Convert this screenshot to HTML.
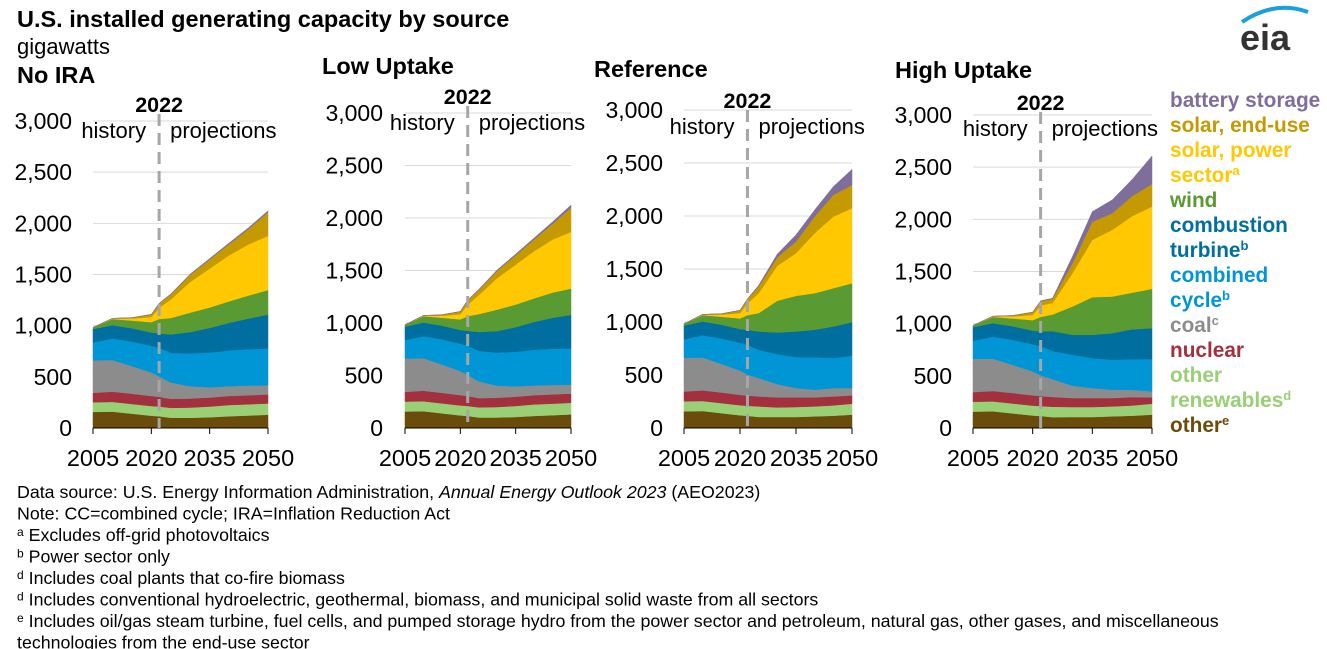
<!DOCTYPE html>
<html><head><meta charset="utf-8"><style>
body{margin:0;background:#fff;width:1327px;height:649px;overflow:hidden;font-family:"Liberation Sans",Arial,sans-serif}
svg{display:block}
</style></head><body>
<svg id="chart" width="1327" height="649" viewBox="0 0 1327 649" xmlns="http://www.w3.org/2000/svg" font-family="Liberation Sans, Arial, sans-serif">
<text x="17" y="27" font-size="23.5" font-weight="bold" fill="#000">U.S. installed generating capacity by source</text>
<text x="17" y="54" font-size="22" fill="#000">gigawatts</text>
<g>
<path d="M1242,22 Q1275,0 1308,12" stroke="#1aa0dc" stroke-width="4" fill="none"/>
<text x="1240" y="50" font-size="36" font-weight="bold" fill="#333">eia</text>
</g>
<g id="panels"></g>
<g id="legend" font-size="20.8" font-weight="bold"></g>
<g id="notes" font-size="17.8" fill="#000"></g>
</svg>
<script>
const years=[2005,2010,2015,2020,2022,2025,2030,2035,2040,2045,2050];
const layerNames=["other","other renewables","nuclear","coal","combined cycle","combustion turbine","wind","solar power sector","solar end-use","battery storage"];
const layerColors=["#6b4c0a","#99d075","#a3303f","#8c8c8c","#0096d6","#006fa0","#5a9a32","#ffc800","#c49a00","#7f6e9b"];
const yTicks=[0,500,1000,1500,2000,2500,3000];
const xTicks=[2005,2020,2035,2050];
const scenarioNames=["No IRA","Low Uptake","Reference","High Uptake"];
const noIRA=[
[157,160,140,120,115,100,100,105,115,122,130],
[95,95,95,95,95,97,100,105,110,110,110],
[92,100,100,98,95,88,88,88,88,88,88],
[318,310,270,230,200,160,120,100,95,95,90],
[174,210,240,260,280,290,320,340,350,355,360],
[131,130,130,131,140,180,210,240,270,300,330],
[16,60,75,100,140,160,190,200,210,225,240],
[0,5,20,50,110,180,300,380,450,500,530],
[0,2,8,25,40,50,70,90,110,150,230],
[0,0,0,2,4,5,6,8,10,12,14]];
const lowUptake=[
[157,160,140,120,115,100,100,105,115,122,130],
[95,95,95,95,95,97,100,105,110,110,110],
[92,100,100,98,95,88,88,88,88,88,88],
[318,310,270,230,200,160,115,98,92,90,85],
[174,210,240,260,280,290,315,330,340,345,345],
[131,130,130,131,140,180,205,235,265,295,320],
[16,60,75,100,140,170,205,215,225,240,250],
[0,5,20,50,110,180,300,380,450,505,540],
[0,2,8,25,40,50,70,90,110,150,230],
[0,0,0,2,4,5,8,10,14,18,25]];
const reference=[
[157,160,140,120,115,104,104,104,110,116,126],
[95,95,95,95,95,100,90,94,94,98,103],
[92,100,100,98,95,94,95,91,85,84,79],
[318,310,270,230,200,173,125,88,72,79,69],
[174,210,240,260,280,267,283,292,305,283,305],
[131,130,130,131,140,173,204,242,261,298,317],
[16,60,75,100,140,173,300,336,345,361,367],
[0,5,20,50,110,188,330,402,566,676,707],
[0,2,8,25,40,63,80,110,157,204,220],
[0,0,0,2,4,10,30,63,62,78,147]];
const highUptake=[
[157,160,140,120,115,104,105,105,112,118,128],
[95,95,95,95,95,100,96,96,95,98,105],
[92,100,100,98,95,94,86,86,80,80,61],
[318,310,270,230,200,170,118,96,80,70,57],
[174,210,240,260,280,270,297,287,287,293,310],
[131,130,130,131,140,190,191,223,255,287,296],
[16,60,75,100,140,160,272,361,351,351,377],
[0,5,20,50,110,110,319,549,639,734,788],
[0,2,8,25,40,40,96,175,159,192,217],
[0,0,0,2,4,6,63,96,128,159,268]];
const scenarioData=[noIRA,lowUptake,reference,highUptake];
const panels=[
 {x0:93,x1:268,y0:428,y3:121,title:[17,83],yr:105,lblR:72},
 {x0:405,x1:571,y0:428,y3:113,title:[322,74],yr:97,lblR:383},
 {x0:684,x1:852,y0:428,y3:110,title:[594,77],yr:101,lblR:663},
 {x0:973,x1:1152,y0:428,y3:115,title:[895,78],yr:103,lblR:952}];
const NS="http://www.w3.org/2000/svg";
function mk(tag,attrs,parent,text){const e=document.createElementNS(NS,tag);for(const k in attrs)e.setAttribute(k,attrs[k]);if(text!==undefined)e.textContent=text;parent.appendChild(e);return e;}
const root=document.getElementById('panels');
panels.forEach((p,pi)=>{
 const g=mk('g',{},root);
 
 
 const xs=v=>p.x0+(v-2005)/45*(p.x1-p.x0);
 const ys=v=>p.y0-v/3000*(p.y0-p.y3);
 const t=mk('text',{x:p.title[0],y:p.title[1],'font-size':23.5,'font-weight':'bold'},g,scenarioNames[pi]);
 
 
 yTicks.forEach(v=>{
  if(v>0){const l=mk('line',{x1:p.x0,x2:p.x1,y1:ys(v),y2:ys(v),stroke:'#d9d9d9','stroke-width':1},g);
  
  }
  const tl=mk('text',{x:p.lblR,y:ys(v)+8,'font-size':23,'text-anchor':'end'},g,v.toLocaleString('en-US'));
  
  
 });
 const data=scenarioData[pi];
 let base=years.map(()=>0);
 data.forEach((vals,li)=>{
  const top=base.map((b,i)=>b+vals[i]);
  const pts=years.map((y,i)=>xs(y)+','+ys(top[i])).concat(years.map((y,i)=>xs(y)+','+ys(base[i])).reverse());
  const poly=mk('polygon',{points:pts.join(' '),fill:layerColors[li],stroke:layerColors[li],'stroke-width':0.5},g);
  
  
  base=top;
 });
 const ax=mk('line',{x1:p.x0,x2:p.x1,y1:p.y0,y2:p.y0,stroke:'#000','stroke-width':1},g);
 
 
 xTicks.forEach(v=>{
  mk('line',{x1:xs(v),x2:xs(v),y1:p.y0,y2:p.y0+6,stroke:'#000'},g);
  const xl=mk('text',{x:xs(v),y:p.y0+38,'font-size':23.5,'text-anchor':'middle'},g,String(v));
  
  
 });
 const lx=xs(2022);
 const dl=mk('line',{x1:lx,x2:lx,y1:p.yr+9,y2:p.y0,stroke:'#a6a6a6','stroke-width':3,'stroke-dasharray':'12,7'},g);
 
 
 const yl=mk('text',{x:lx,y:p.yr+7,'font-size':21.5,'font-weight':'bold','text-anchor':'middle'},g,'2022');
 
 
 const h=mk('text',{x:lx-13,y:p.yr+33,'font-size':22,'text-anchor':'end'},g,'history');
 
 
 const pr=mk('text',{x:lx+11,y:p.yr+33,'font-size':22},g,'projections');
 
 
});
const legendLines=[["battery storage","#7f6e9b",""],["solar, end-use","#c49a00",""],["solar, power","#ffc800",""],["sector","#ffc800","a"],["wind","#5a9a32",""],["combustion","#006fa0",""],["turbine","#006fa0","b"],["combined","#0096d6",""],["cycle","#0096d6","b"],["coal","#8c8c8c","c"],["nuclear","#a3303f",""],["other","#99d075",""],["renewables","#99d075","d"],["other","#6b4c0a","e"]];
const lg=document.getElementById('legend');
legendLines.forEach((l,i)=>{
 const t=mk('text',{x:1170,y:107+i*25,fill:l[1]},lg,l[0]);
 if(l[2]){mk('tspan',{'font-size':13,dy:-7},t,l[2]);}
 
 
});
const notes=[["","Data source: U.S. Energy Information Administration, ",true],["","Note: CC=combined cycle; IRA=Inflation Reduction Act"],["a"," Excludes off-grid photovoltaics"],["b"," Power sector only"],["d"," Includes coal plants that co-fire biomass"],["d"," Includes conventional hydroelectric, geothermal, biomass, and municipal solid waste from all sectors"],["e"," Includes oil/gas steam turbine, fuel cells, and pumped storage hydro from the power sector and petroleum, natural gas, other gases, and miscellaneous"],["","technologies from the end-use sector"]];
const ng=document.getElementById('notes');
notes.forEach((n,i)=>{
 const t=mk('text',{x:17,y:498+i*21.5},ng);
 if(n[0])mk('tspan',{'font-size':12,dy:-5},t,n[0]);
 mk('tspan',n[0]?{dy:5}:{},t,n[1]);
 if(n[2]){mk('tspan',{'font-style':'italic'},t,'Annual Energy Outlook 2023');mk('tspan',{},t,' (AEO2023)');}
 
 
});
</script>
</body></html>
